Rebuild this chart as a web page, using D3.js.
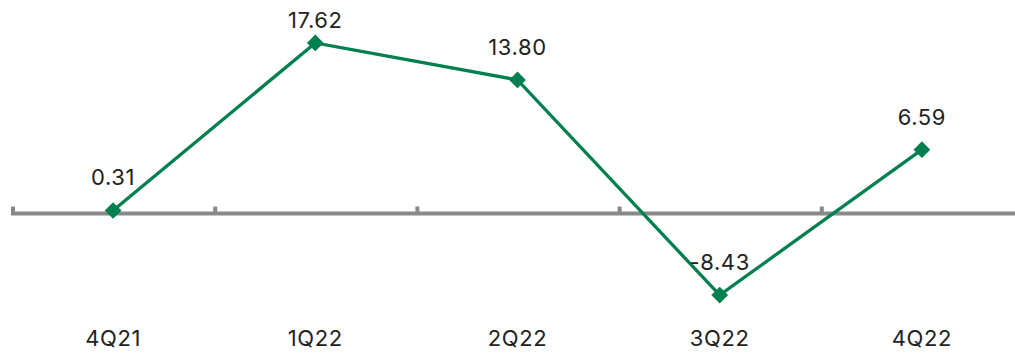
<!DOCTYPE html>
<html>
<head>
<meta charset="utf-8">
<script src="https://cdn.jsdelivr.net/npm/d3@7"></script>
<style>
  body { margin: 0; background: #fff; }
  svg { display: block; font-family: Inter, "Open Sans", sans-serif; }
</style>
</head>
<body>
<div id="wrapper"></div>
<script>
const categories = ["4Q21", "1Q22", "2Q22", "3Q22", "4Q22"];
const values = [0.31, 17.62, 13.8, -8.43, 6.59];
const labels = ["0.31", "17.62", "13.80", "-8.43", "6.59"];

function buildChart() {
  const dimensions = { width: 1015, height: 353 };

  const svg = d3.select("#wrapper").append("svg")
    .attr("width", dimensions.width)
    .attr("height", dimensions.height);

  const x = d3.scaleBand().domain(categories).range([12, 1023]);
  const y = d3.scaleLinear().domain([-10, 20]).range([310.3, 19.9]);

  const zero = y(0);

  // axis line
  svg.append("line")
    .attr("x1", 11).attr("x2", dimensions.width)
    .attr("y1", zero).attr("y2", zero)
    .attr("stroke", "#898989")
    .attr("stroke-width", 4);

  // ticks at band edges
  svg.selectAll(".tick")
    .data(categories)
    .enter()
    .append("line")
    .attr("class", "tick")
    .attr("x1", d => x(d) + 1).attr("x2", d => x(d) + 1)
    .attr("y1", zero - 7).attr("y2", zero)
    .attr("stroke", "#898989")
    .attr("stroke-width", 4);

  const cx = d => x(d) + x.bandwidth() / 2;

  // category labels
  svg.selectAll(".cat")
    .data(categories)
    .enter()
    .append("text")
    .attr("class", "cat")
    .attr("x", d => cx(d))
    .attr("y", 346)
    .attr("text-anchor", "middle")
    .attr("font-size", 22)
    .attr("letter-spacing", 0.6)
    .attr("fill", "#222")
    .text(d => d);

  const points = categories.map((c, i) => ({ c, v: values[i], label: labels[i] }));

  const line = d3.line().x(d => cx(d.c)).y(d => y(d.v));

  svg.append("path")
    .datum(points)
    .attr("d", line)
    .attr("fill", "none")
    .attr("stroke", "#00804f")
    .attr("stroke-width", 3.3);

  svg.selectAll(".marker")
    .data(points)
    .enter()
    .append("path")
    .attr("class", "marker")
    .attr("d", d3.symbol().type(d3.symbolSquare).size(140))
    .attr("transform", d => `translate(${cx(d.c)},${y(d.v)}) rotate(45)`)
    .attr("fill", "#00804f");

  // value labels
  svg.selectAll(".val")
    .data(points)
    .enter()
    .append("text")
    .attr("class", "val")
    .attr("x", d => cx(d.c))
    .attr("y", d => Math.max(y(d.v) - 25, 28))
    .attr("text-anchor", "middle")
    .attr("font-size", 22)
    .attr("letter-spacing", 0.6)
    .attr("fill", "#222")
    .text(d => d.label);
}

buildChart();
</script>
</body>
</html>
